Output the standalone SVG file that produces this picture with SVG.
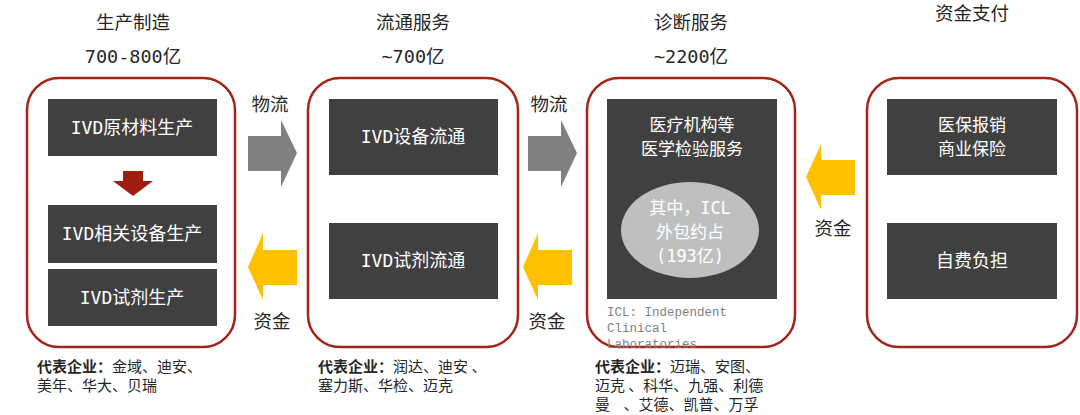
<svg xmlns="http://www.w3.org/2000/svg" width="1080" height="415" viewBox="0 0 1080 415">
<style>
.t{font-family:"DejaVu Sans Mono","Noto Sans CJK SC",sans-serif;fill:#262626;text-anchor:middle;font-size:18.5px}
.w{font-family:"DejaVu Sans Mono","Noto Sans CJK SC",sans-serif;fill:#ffffff;text-anchor:middle;font-size:18px}
.w2{font-size:17px}
.c{font-family:"Noto Sans CJK SC","Noto Sans",sans-serif;fill:#262626;font-size:15px}
.b{font-weight:bold}
.m{font-family:"Liberation Mono",monospace;fill:#7f7f7f;font-size:12.5px}
.frame{fill:none;stroke:#a0261a;stroke-width:2.5}
.dk{fill:#404040}
.g{fill:#808080}
.y{fill:#ffc000}
</style>
<g id="titles">
<text class="t" x="133" y="29">生产制造</text>
<text class="t" x="133" y="63">700-800亿</text>
<text class="t" x="413" y="29">流通服务</text>
<text class="t" x="413" y="63">~700亿</text>
<text class="t" x="691" y="29">诊断服务</text>
<text class="t" x="691" y="63">~2200亿</text>
<text class="t" x="972" y="20">资金支付</text>
</g>
<g id="node-manufacture">
<rect class="frame" x="27" y="78" width="208" height="269" rx="32"/>
<rect class="dk" x="48" y="99" width="169" height="57"/>
<text class="w" x="132" y="134">IVD原材料生产</text>
<polygon fill="#a01e10" points="123,171 143,171 143,181 153,181 133,196 113,181 123,181"/>
<rect class="dk" x="48" y="205" width="169" height="58"/>
<text class="w" x="132" y="240">IVD相关设备生产</text>
<rect class="dk" x="48" y="269" width="169" height="57"/>
<text class="w" x="132" y="304">IVD试剂生产</text>
<text class="c" x="37" y="372"><tspan class="b">代表企业：</tspan>金域、迪安、</text>
<text class="c" x="37" y="391">美年、华大、贝瑞</text>
</g>
<g id="node-distribution">
<rect class="frame" x="308" y="78" width="210" height="269" rx="32"/>
<rect class="dk" x="329" y="99" width="169" height="76"/>
<text class="w" x="413" y="143">IVD设备流通</text>
<rect class="dk" x="329" y="223" width="169" height="76"/>
<text class="w" x="413" y="267">IVD试剂流通</text>
<text class="c" x="318" y="372"><tspan class="b">代表企业：</tspan>润达、迪安&#160;、</text>
<text class="c" x="318" y="391">塞力斯、华检、迈克</text>
</g>
<g id="node-diagnosis">
<rect class="frame" x="587" y="78" width="208" height="269" rx="32"/>
<rect class="dk" x="607" y="99" width="170" height="200"/>
<text class="w w2" x="692" y="131">医疗机构等</text>
<text class="w w2" x="692" y="155">医学检验服务</text>
<ellipse cx="690" cy="230" rx="69" ry="48" fill="#bfbfbf"/>
<text class="w w2" x="690" y="214">其中，ICL</text>
<text class="w w2" x="690" y="238">外包约占</text>
<text class="w w2" x="690" y="262">(193亿)</text>
<text class="m" x="607" y="316">ICL: Independent</text>
<text class="m" x="607" y="332">Clinical</text>
<text class="m" x="607" y="348">Laboratories</text>
<text class="c" x="595" y="372"><tspan class="b">代表企业：</tspan>迈瑞、安图、</text>
<text class="c" x="595" y="391">迈克&#160;、科华、九强、利德</text>
<text class="c" x="595" y="410">曼&#160;&#160;&#160;&#160;、艾德、凯普、万孚</text>
</g>
<g id="node-payment">
<rect class="frame" x="867" y="78" width="210" height="269" rx="32"/>
<rect class="dk" x="887" y="99" width="170" height="76"/>
<text class="w w2" x="972" y="131">医保报销</text>
<text class="w w2" x="972" y="155">商业保险</text>
<rect class="dk" x="887" y="223" width="170" height="76"/>
<text class="w" x="972" y="267">自费负担</text>
</g>
<g id="connectors">
<polygon class="g" points="248,136 281,136 281,120 297,153 281,187 281,171 248,171"/>
<text class="t" x="270" y="111">物流</text>
<polygon class="y" points="297,250 263,250 263,233 248,267 263,300 263,285 297,285"/>
<text class="t" x="272" y="328">资金</text>
<polygon class="g" points="528,136 561,136 561,120 577,153 561,187 561,171 528,171"/>
<text class="t" x="549" y="111">物流</text>
<polygon class="y" points="572,250 538,250 538,233 523,267 538,300 538,285 572,285"/>
<text class="t" x="547" y="328">资金</text>
<polygon class="y" points="855,160 821,160 821,144 806,177 821,210 821,195 855,195"/>
<text class="t" x="833" y="235">资金</text>
</g>
</svg>
